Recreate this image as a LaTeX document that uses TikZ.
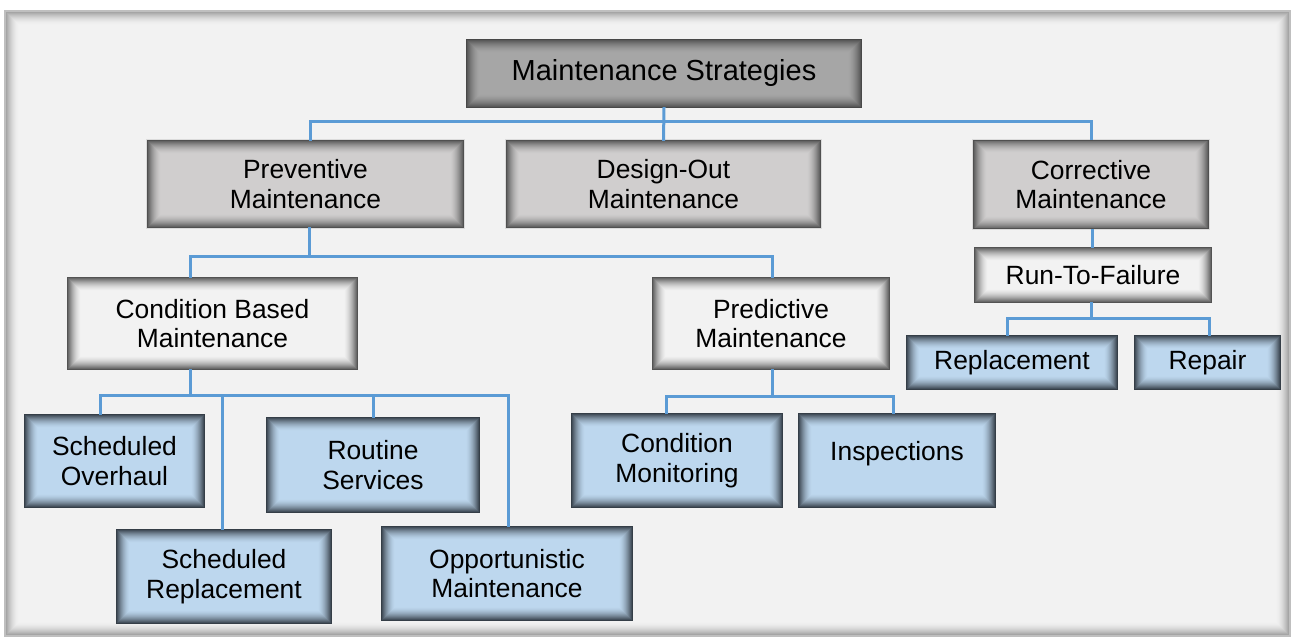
\documentclass[tikz,border=0pt]{standalone}
\usepackage{fontspec}
\setmainfont{Liberation Sans}
\usetikzlibrary{backgrounds}

\definecolor{paper}{HTML}{F2F2F2}
\definecolor{frameedge}{HTML}{8A8A8A}
\definecolor{rootfill}{HTML}{A6A6A6}
\definecolor{rootedge}{HTML}{555555}
\definecolor{midfill}{HTML}{D0CECE}
\definecolor{midedge}{HTML}{5E5E5E}
\definecolor{lightfill}{HTML}{F2F2F2}
\definecolor{lightedge}{HTML}{626262}
\definecolor{leaffill}{HTML}{BDD7EE}
\definecolor{leafedge}{HTML}{3E4954}
\definecolor{link}{HTML}{5B9BD5}

% filled box with a soft inner shadow along its edges
\newcommand\shadedbox[3]{%
  \fill[#2] (#1.north west) rectangle (#1.south east);
  \foreach \i [evaluate=\i as \p using {int(round(95*(1-\i/13)^1.7))},
               evaluate=\i as \d using {\i+0.5}] in {0,...,12}
    \draw[line width=1pt, color=#3!\p!#2]
      ([shift={(\d,\d)}]#1.north west) rectangle ([shift={(-\d,-\d)}]#1.south east);
  \draw[line width=0.8pt, #3!85!black] (#1.north west) rectangle (#1.south east);
}

\tikzset{
  box/.style={inner sep=0pt, align=center, text=black,
              font=\fontsize{26.4}{29.5}\selectfont},
  conn/.style={link, line width=3pt},
}

\begin{document}
\begin{tikzpicture}[x=1pt, y=-1pt]
\useasboundingbox (0,0) rectangle (1292,642);

% outer panel
\node[inner sep=0pt, minimum width=1285, minimum height=625] (panel) at (647.5,323.5) {};

% level 0
\node[box, minimum width=394, minimum height=67,
      font=\fontsize{29}{32}\selectfont] (root) at (664,73.5) {Maintenance Strategies};

% level 1
\node[box, minimum width=315, minimum height=86] (prev) at (305.5,184) {Preventive\\Maintenance};
\node[box, minimum width=313, minimum height=86] (design) at (663.5,184) {Design-Out\\Maintenance};
\node[box, minimum width=234, minimum height=88] (corr) at (1091,184.5) {Corrective\\Maintenance};

% level 2
\node[box, minimum width=289, minimum height=91] (cbm) at (212.5,323.5) {Condition Based\\Maintenance};
\node[box, minimum width=236, minimum height=91] (pred) at (771,323.5) {Predictive\\Maintenance};
\node[box, minimum width=236, minimum height=54] (rtf) at (1093,275) {Run-To-Failure};

% leaves
\node[box, minimum width=179, minimum height=92] (sover) at (114.5,461) {Scheduled\\Overhaul};
\node[box, minimum width=212, minimum height=94] (rout) at (373,465) {Routine\\Services};
\node[box, minimum width=214, minimum height=93] (srepl) at (224,576.5) {Scheduled\\Replacement};
\node[box, minimum width=250, minimum height=93] (opp) at (507,573.5) {Opportunistic\\Maintenance};
\node[box, minimum width=210, minimum height=93] (cmon) at (677,460.5) {Condition\\Monitoring};
\node[box, minimum width=196, minimum height=93, text depth=19pt] (insp) at (897,460.5) {Inspections};
\node[box, minimum width=210, minimum height=53] (repl) at (1012,362.5) {Replacement};
\node[box, minimum width=145, minimum height=53] (repair) at (1207.5,362.5) {Repair};

\begin{pgfonlayer}{background}
  % panel with its grey rim and inner shade
  \fill[paper] (panel.north west) rectangle (panel.south east);
  \foreach \i [evaluate=\i as \p using {int(round(85*(1-\i/14)^1.8))},
               evaluate=\i as \d using {\i+0.5}] in {0,...,13}
    \draw[line width=1pt, color=frameedge!\p!paper]
      ([shift={(\d,\d)}]panel.north west) rectangle ([shift={(-\d,-\d)}]panel.south east);
  \draw[line width=2pt, color=black!25] (panel.north west) rectangle (panel.south east);

  \foreach \n in {prev,design,corr}
    \draw[line width=3pt, black!14] (\n.north west) rectangle (\n.south east);

  \shadedbox{root}{rootfill}{rootedge}
  \foreach \n in {prev,design,corr} {\shadedbox{\n}{midfill}{midedge}}
  \foreach \n in {cbm,pred,rtf} {\shadedbox{\n}{lightfill}{lightedge}}
  \foreach \n in {sover,rout,srepl,opp,cmon,insp,repl,repair} {\shadedbox{\n}{leaffill}{leafedge}}
\end{pgfonlayer}

% bus lines
\coordinate (bus0) at (0,121);
\coordinate (bus1) at (0,256);
\coordinate (bus2) at (0,395);
\coordinate (bus3) at (0,396);
\coordinate (bus4) at (0,318);

% root to level 1
\draw[conn] (root.south) -- (design.north);
\draw[conn] ([xshift=4.5pt]prev.north) -- ([xshift=4.5pt]prev.north |- bus0) -| (corr.north);

% corrective branch
\draw[conn] ([xshift=1pt]corr.south) -- ([xshift=1pt]corr.south |- rtf.north);
\draw[conn] ([xshift=-2pt]rtf.south) -- ([xshift=-2pt]rtf.south |- bus4);
\draw[conn] ([xshift=-5pt]repl.north) -- ([xshift=-5pt]repl.north |- bus4)
            -| ([xshift=1.5pt]repair.north);

% preventive branch
\draw[conn] ([xshift=3.5pt]prev.south) -- ([xshift=3.5pt]prev.south |- bus1);
\draw[conn] ([xshift=-22.5pt]cbm.north) -- ([xshift=-22.5pt]cbm.north |- bus1)
            -| ([xshift=1pt]pred.north);

% condition based branch
\draw[conn] ([xshift=-22.5pt]cbm.south) -- ([xshift=-22.5pt]cbm.south |- bus2);
\draw[conn] ([xshift=-14.5pt]sover.north) -- ([xshift=-14.5pt]sover.north |- bus2)
            -| ([xshift=1pt]opp.north);
\draw[conn] ([xshift=-2pt]srepl.north) -- ([xshift=-2pt]srepl.north |- bus2);
\draw[conn] (rout.north) -- (rout.north |- bus2);

% predictive branch
\draw[conn] ([xshift=1pt]pred.south) -- ([xshift=1pt]pred.south |- bus3);
\draw[conn] ([xshift=-11pt]cmon.north) -- ([xshift=-11pt]cmon.north |- bus3)
            -| ([xshift=-4pt]insp.north);
\end{tikzpicture}
\end{document}
